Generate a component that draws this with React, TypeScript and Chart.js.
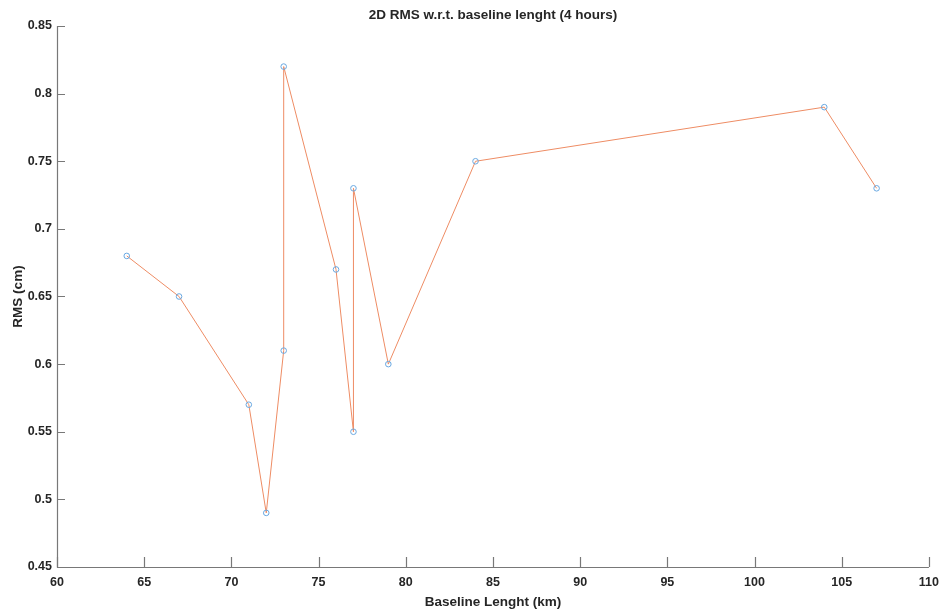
import React, { useEffect, useRef } from "react";
import { Chart, registerables } from "chart.js";

Chart.register(...registerables);

const baselineKm = [64, 67, 71, 72, 73, 73, 76, 77, 77, 79, 84, 104, 107];
const rmsCm = [0.68, 0.65, 0.57, 0.49, 0.61, 0.82, 0.67, 0.55, 0.73, 0.6, 0.75, 0.79, 0.73];
const xTicks = [60, 65, 70, 75, 80, 85, 90, 95, 100, 105, 110];
const yTicks = [0.45, 0.5, 0.55, 0.6, 0.65, 0.7, 0.75, 0.8, 0.85];

const titleText = "2D RMS w.r.t. baseline lenght (4 hours)";
const xLabel = "Baseline Lenght (km)";
const yLabel = "RMS (cm)";

const FONT = "'Liberation Sans', Arial, Helvetica, sans-serif";
const AXIS_COLOR = "rgb(120,120,120)";
const TEXT_COLOR = "rgb(38,38,38)";

const matlabAxes = {
  id: "matlabAxes",
  afterDraw(chart: any) {
    const { ctx, chartArea, scales } = chart;
    const { left, right, top, bottom } = chartArea;
    ctx.save();
    ctx.strokeStyle = AXIS_COLOR;
    ctx.lineWidth = 1.2;
    ctx.beginPath();
    ctx.moveTo(left + 0.5, top);
    ctx.lineTo(left + 0.5, bottom + 0.5);
    ctx.lineTo(right, bottom + 0.5);
    ctx.stroke();
    ctx.beginPath();
    for (const v of xTicks) {
      const px = Math.round(scales.x.getPixelForValue(v)) + 0.5;
      ctx.moveTo(px, bottom);
      ctx.lineTo(px, bottom - 10);
    }
    for (const v of yTicks) {
      const py = Math.round(scales.y.getPixelForValue(v)) + 0.5;
      ctx.moveTo(left, py);
      ctx.lineTo(left + 8, py);
    }
    ctx.stroke();
    ctx.fillStyle = TEXT_COLOR;
    ctx.font = `bold 13.5px ${FONT}`;
    ctx.textAlign = "center";
    ctx.textBaseline = "middle";
    ctx.fillText(titleText, (left + right) / 2, 15);
    ctx.font = `bold 13.5px ${FONT}`;
    ctx.fillText(xLabel, (left + right) / 2, 602);
    ctx.translate(18, (top + bottom) / 2);
    ctx.rotate(-Math.PI / 2);
    ctx.fillText(yLabel, 0, 0);
    ctx.restore();
  },
};

export default function App() {
  const ref = useRef<HTMLCanvasElement>(null);
  useEffect(() => {
    if (!ref.current) return;
    const chart = new Chart(ref.current, {
      type: "line",
      data: {
        datasets: [
          {
            data: baselineKm.map((x, i) => ({ x, y: rmsCm[i] })),
            borderColor: "rgb(238,140,100)",
            borderWidth: 1,
            pointRadius: 2.8,
            pointBorderWidth: 1,
            pointBorderColor: "rgb(105,168,225)",
            pointBackgroundColor: "rgba(255,255,255,0)",
            tension: 0,
            fill: false,
          },
        ],
      },
      plugins: [matlabAxes],
      options: {
        animation: false,
        responsive: false,
        maintainAspectRatio: false,
        layout: { padding: { top: 26, right: 17, left: 0, bottom: 0 } },
        plugins: {
          legend: { display: false },
          tooltip: { enabled: false },
          title: { display: false },
        },
        scales: {
          x: {
            type: "linear",
            min: 60,
            max: 110,
            afterBuildTicks: (s: any) => {
              s.ticks = xTicks.map((v) => ({ value: v }));
            },
            afterFit: (s: any) => {
              s.height = 47;
            },
            border: { display: false },
            grid: { display: false, drawTicks: false },
            ticks: {
              padding: 8,
              color: TEXT_COLOR,
              font: { family: FONT, size: 12.5, weight: "bold" },
              maxRotation: 0,
              autoSkip: false,
            },
          },
          y: {
            type: "linear",
            min: 0.45,
            max: 0.85,
            afterBuildTicks: (s: any) => {
              s.ticks = yTicks.map((v) => ({ value: v }));
            },
            afterFit: (s: any) => {
              s.width = 57;
            },
            border: { display: false },
            grid: { display: false, drawTicks: false },
            ticks: {
              padding: 5,
              color: TEXT_COLOR,
              font: { family: FONT, size: 12.5, weight: "bold" },
              autoSkip: false,
              callback: (v: any) => String(Math.round(Number(v) * 100) / 100),
            },
          },
        },
      },
    });
    return () => chart.destroy();
  }, []);
  return (
    <div style={{ position: "absolute", left: 0, top: 0, width: 947, height: 614, background: "#fff" }}>
      <canvas ref={ref} width={947} height={614} style={{ width: 947, height: 614 }} />
    </div>
  );
}
